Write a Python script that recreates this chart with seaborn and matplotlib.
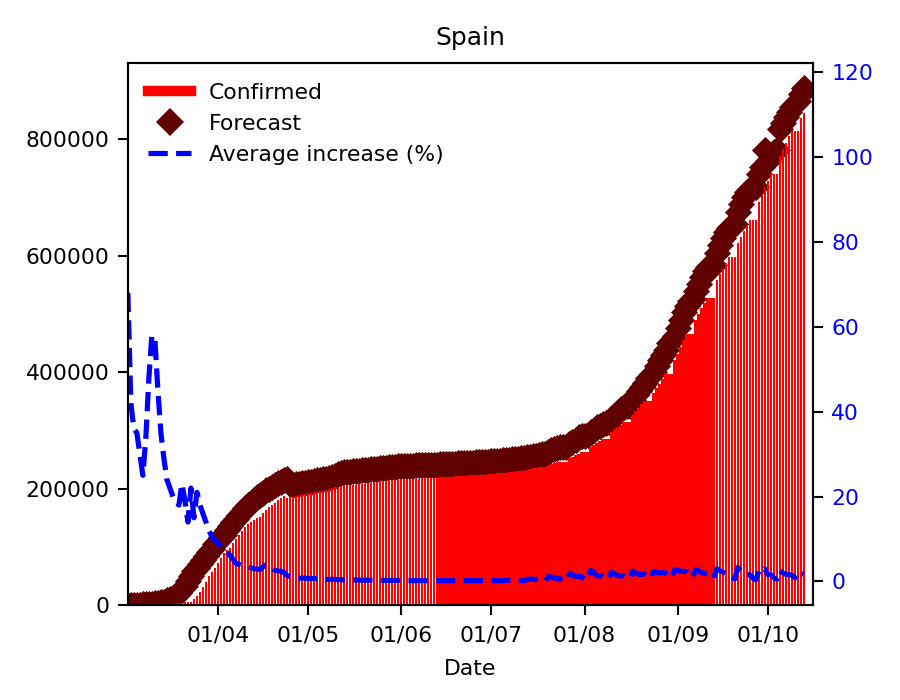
import numpy as np
import pandas as pd
import matplotlib
matplotlib.use("Agg")
import matplotlib.pyplot as plt
import matplotlib.dates as mdates
from matplotlib.lines import Line2D
import seaborn as sns

# ---------------- data ----------------
start_date = "2020-03-02"

confirmed = [
    100, 120, 150, 200, 250, 300, 400, 500, 600, 700, 800, 1000, 1200, 1500, 1800,
    2200, 2700, 3200, 3800, 4500, 5200,
    6000, 10000, 16000, 23000, 31000, 40000, 49000, 57000, 64000, 72000,
    81000, 89000, 94000, 98000, 106000, 113000, 120000, 127000, 134000, 140000,
    143000, 146000, 149000, 152000, 158000, 164000, 169000, 172000, 176000, 180000,
    183000, 187000,
    184000, 185000, 186000, 187500, 189000, 190000, 191000, 192000,
    193000, 194000, 194500, 195000, 196500, 198000, 199500, 201000, 202000, 203500,
    205000, 205500, 206000, 206300, 206600, 206800, 207000, 207800, 208600, 209400,
    210200, 211000, 211600, 212200, 212800, 213400, 214000, 214600, 215200, 215800,
    216000, 216200, 216400, 216600, 216800, 217000, 217200, 217500, 217800, 218100,
    218400, 218700, 219000, 219300, 219600, 219900, 220200, 220500, 220800, 221100,
    221500, 221900, 222300, 222700, 223000, 223300, 223600, 223800,
    224000, 224500, 225000, 225500, 226000, 226000, 226000,
    227500, 228000, 228500, 229000, 229500, 229500, 229500,
    232000, 233000, 234500, 236000, 237000, 237000, 237000,
    240000, 242000, 243500, 245000, 246500, 246500, 246500,
    253000, 255000, 257000, 260000, 263000, 263000, 263000,
    272000, 275000, 278000, 282000, 286000, 286000, 286000,
    298000, 302000, 306000, 310000, 314000, 314000, 314000,
    327000, 333000, 339000, 345000, 351000, 351000, 351000,
    364000, 372000, 380000, 388000, 396000, 396000, 396000,
    420000, 432000, 444000, 456000, 466000, 466000, 466000,
    490000, 500000, 510000, 519000, 528000, 528000, 528000,
    558000, 568000, 578000, 588000, 597000, 597000, 597000,
    622000, 632000, 642000, 652000, 662000, 662000, 662000,
    692000, 704000, 716000, 728000, 740000, 740000, 740000,
    772000, 783000, 794000, 805000, 815000, 815000, 815000,
    836000, 845000,
]

forecast = [
    300, 400, 500, 600, 800, 1000, 1200, 1600, 2200, 2800,
    3400, 4500, 6000, 8000, 10000, 12000, 16000, 21000, 27000, 33000,
    41000, 50000, 58000, 64000, 71000, 78000, 85000, 91000, 97000, 104000,
    110000, 116000, 121000, 128000, 135000, 142000, 148000, 154000, 160000, 166000,
    171000, 176000, 181000, 185000, 189000, 193000, 197000, 200000, 203000, 206000,
    209000, 212000, 214000, 216000, 208000, 206000, 207000, 208000, 209000, 210000,
    211000, 212000, 213000, 214000, 215000, 216000, 217000, 218000, 220000, 222000,
    225000, 227000, 228000, 228500, 229000, 229500, 230000, 231000, 231500, 232000,
    232500, 233000, 233500, 234000, 235000, 235500, 236000, 236500, 237000, 237500,
    238000, 238300, 238600, 238900, 239200, 239500, 239800, 240000, 240200, 240400,
    240600, 240800, 241000, 241200, 241400, 241700, 242000, 242300, 242600, 242900,
    243200, 243500, 243800, 244100, 244400, 244700, 245000, 245300, 245700, 246000,
    246400, 246800, 247200, 247600, 248000, 248400, 249000, 249600, 250200, 250800,
    251500, 252000, 252500, 253500, 254500, 255500, 256500, 258000, 259000, 260000,
    263000, 266000, 268000, 270000, 271000, 271500, 272000, 276000, 280000, 284000,
    288000, 290000, 291000, 292000, 297000, 301000, 305000, 308000, 311000, 313000,
    314000, 321000, 326000, 331000, 336000, 340000, 341000, 342000, 352000, 360000,
    368000, 375000, 381000, 390000, 395000, 400000, 410000, 420000, 430000, 438000,
    450000, 455000, 462000, 476000, 490000, 503000, 514000, 522000, 526000, 540000,
    552000, 563000, 573000, 580000, 582000, 584000, 605000, 618000, 630000, 641000,
    648000, 651000, 654000, 675000, 688000, 700000, 710000, 714000, 716000, 718000,
    740000, 752000, 781000, 762000, 772000, 778000, 781000, 818000, 828000, 838000,
    846000, 855000, 860000, 866000, 878000, 888000,
]

avg_increase = [
    68, 42, 36, 35, 30, 25, 34, 48, 58, 57,
    45, 35, 29, 24, 22, 20, 18.5, 18, 23, 19,
    14, 22, 15, 21, 18, 16, 14, 12, 10.5, 9.7,
    9, 8.2, 7.5, 6.8, 6.2, 5.2, 4.3, 4.0, 3.8, 3.6,
    3.4, 3.2, 3.0, 2.9, 2.8, 3.5, 3.9, 3.8, 3.1, 2.6,
    2.5, 2.4, 2.1, 1.4, 1.1, 0.9, 0.9, 0.8, 0.8, 0.8,
    0.7, 0.7, 0.7, 0.6, 0.6, 0.6, 0.5, 0.5, 0.5, 0.5,
    0.4, 0.4, 0.4, 0.4, 0.35, 0.35, 0.35, 0.3, 0.3, 0.3,
    0.3, 0.3, 0.3, 0.3, 0.3, 0.25, 0.25, 0.25, 0.25, 0.25,
    0.25, 0.2, 0.2, 0.2, 0.2, 0.2, 0.2, 0.2, 0.2, 0.2,
    0.2, 0.2, 0.2, 0.2, 0.2, 0.2, 0.2, 0.2, 0.2, 0.2,
    0.2, 0.2, 0.2, 0.2, 0.2, 0.2, 0.2, 0.2, 0.2, 0.2,
    0.2, 0.2, 0.2, 0.2, 0.2, 0.2, 0.3, 0.3, 0.3, 0.3,
    0.3, 0.2, 0.2,
    0.5, 0.6, 0.5, 0.5, 0.5, 0.3, 0.2,
    1.2, 1.0, 0.8, 0.7, 0.6, 0.3, 0.2,
    1.8, 1.6, 1.2, 1.2, 1.1, 0.6, 0.4,
    2.6, 2.2, 1.4, 1.3, 1.3, 0.8, 0.6,
    2.2, 1.8, 1.4, 1.3, 1.3, 0.9, 0.7,
    2.4, 2.0, 1.7, 1.7, 1.7, 1.1, 0.8,
    2.4, 2.2, 2.0, 2.1, 2.0, 1.3, 0.9,
    2.8, 2.6, 2.4, 2.4, 2.3, 1.5, 1.0,
    2.8, 2.5, 2.1, 1.9, 1.8, 1.1, 0.8,
    3.0, 2.6, 2.2, 1.9, 1.8, 1.0, 0.6,
    3.3, 2.5, 1.8, 1.6, 1.6, 0.8, 0.4,
    2.4, 2.0, 3.0, 1.6, 1.6, 0.9, 0.5,
    2.6, 2.0, 1.7, 1.6, 1.5, 0.9, 0.6,
    2.0, 1.7,
]

title = "Spain"
x_label = "Date"
legend_labels = ["Confirmed", "Forecast", "Average increase (%)"]

n = min(len(confirmed), len(forecast), len(avg_increase))
dates = pd.date_range(start_date, periods=n, freq="D")
df = pd.DataFrame({
    "date": dates,
    "confirmed": confirmed[:n],
    "forecast": forecast[:n],
    "avg": avg_increase[:n],
})

# ---------------- plot ----------------
plt.rcParams.update({
    "font.size": 10.5,
    "axes.titlesize": 12,
    "axes.labelsize": 10.5,
    "xtick.labelsize": 10.5,
    "ytick.labelsize": 10.5,
    "legend.fontsize": 10.5,
    "axes.linewidth": 1.0,
    "xtick.major.size": 4.8,
    "ytick.major.size": 4.8,
    "xtick.major.width": 1.0,
    "ytick.major.width": 1.0,
    "xtick.major.pad": 5.0,
    "ytick.major.pad": 4.0,
})

fig = plt.figure(figsize=(6, 4.6667), dpi=150)
ax = fig.add_axes([0.1422, 0.1357, 0.7611, 0.7743])

forecast_color = "#600000"
sns.scatterplot(data=df, x="date", y="forecast", marker="D", s=85,
                color=forecast_color, linewidth=0, ax=ax, zorder=1, legend=False)
ax.bar(df["date"], df["confirmed"], width=0.8, color="red",
       linewidth=0, zorder=2)

shift = pd.Timedelta(hours=1)
ax.set_xlim(pd.Timestamp("2020-03-02") + shift, pd.Timestamp("2020-10-16") + shift)
ax.set_ylim(0, 931000)
ax.xaxis.set_major_locator(mdates.MonthLocator())
ax.xaxis.set_major_formatter(mdates.DateFormatter("%d/%m"))
ax.set_xlabel(x_label, labelpad=6.5)
ax.set_ylabel("")
ax.set_title(title, pad=8.5)
ax.ticklabel_format(axis="y", style="plain")

ax2 = ax.twinx()
sns.lineplot(data=df, x="date", y="avg", color="blue", linestyle="--",
             linewidth=2.5, ax=ax2, legend=False)
ax2.set_ylim(-5.54, 122.1)
ax2.set_ylabel("")
ax2.tick_params(axis="y", labelcolor="blue")
ax2.set_xlim(pd.Timestamp("2020-03-02") + shift, pd.Timestamp("2020-10-16") + shift)

handles = [
    Line2D([], [], color="red", linewidth=5, solid_capstyle="projecting"),
    Line2D([], [], color=forecast_color, marker="D", linestyle="None",
           markersize=np.sqrt(85), markeredgewidth=0),
    Line2D([], [], color="blue", linestyle="--", linewidth=2.5),
]
ax2.legend(handles, legend_labels, loc="upper left", frameon=False)

fig.savefig("out.png", dpi=150)
